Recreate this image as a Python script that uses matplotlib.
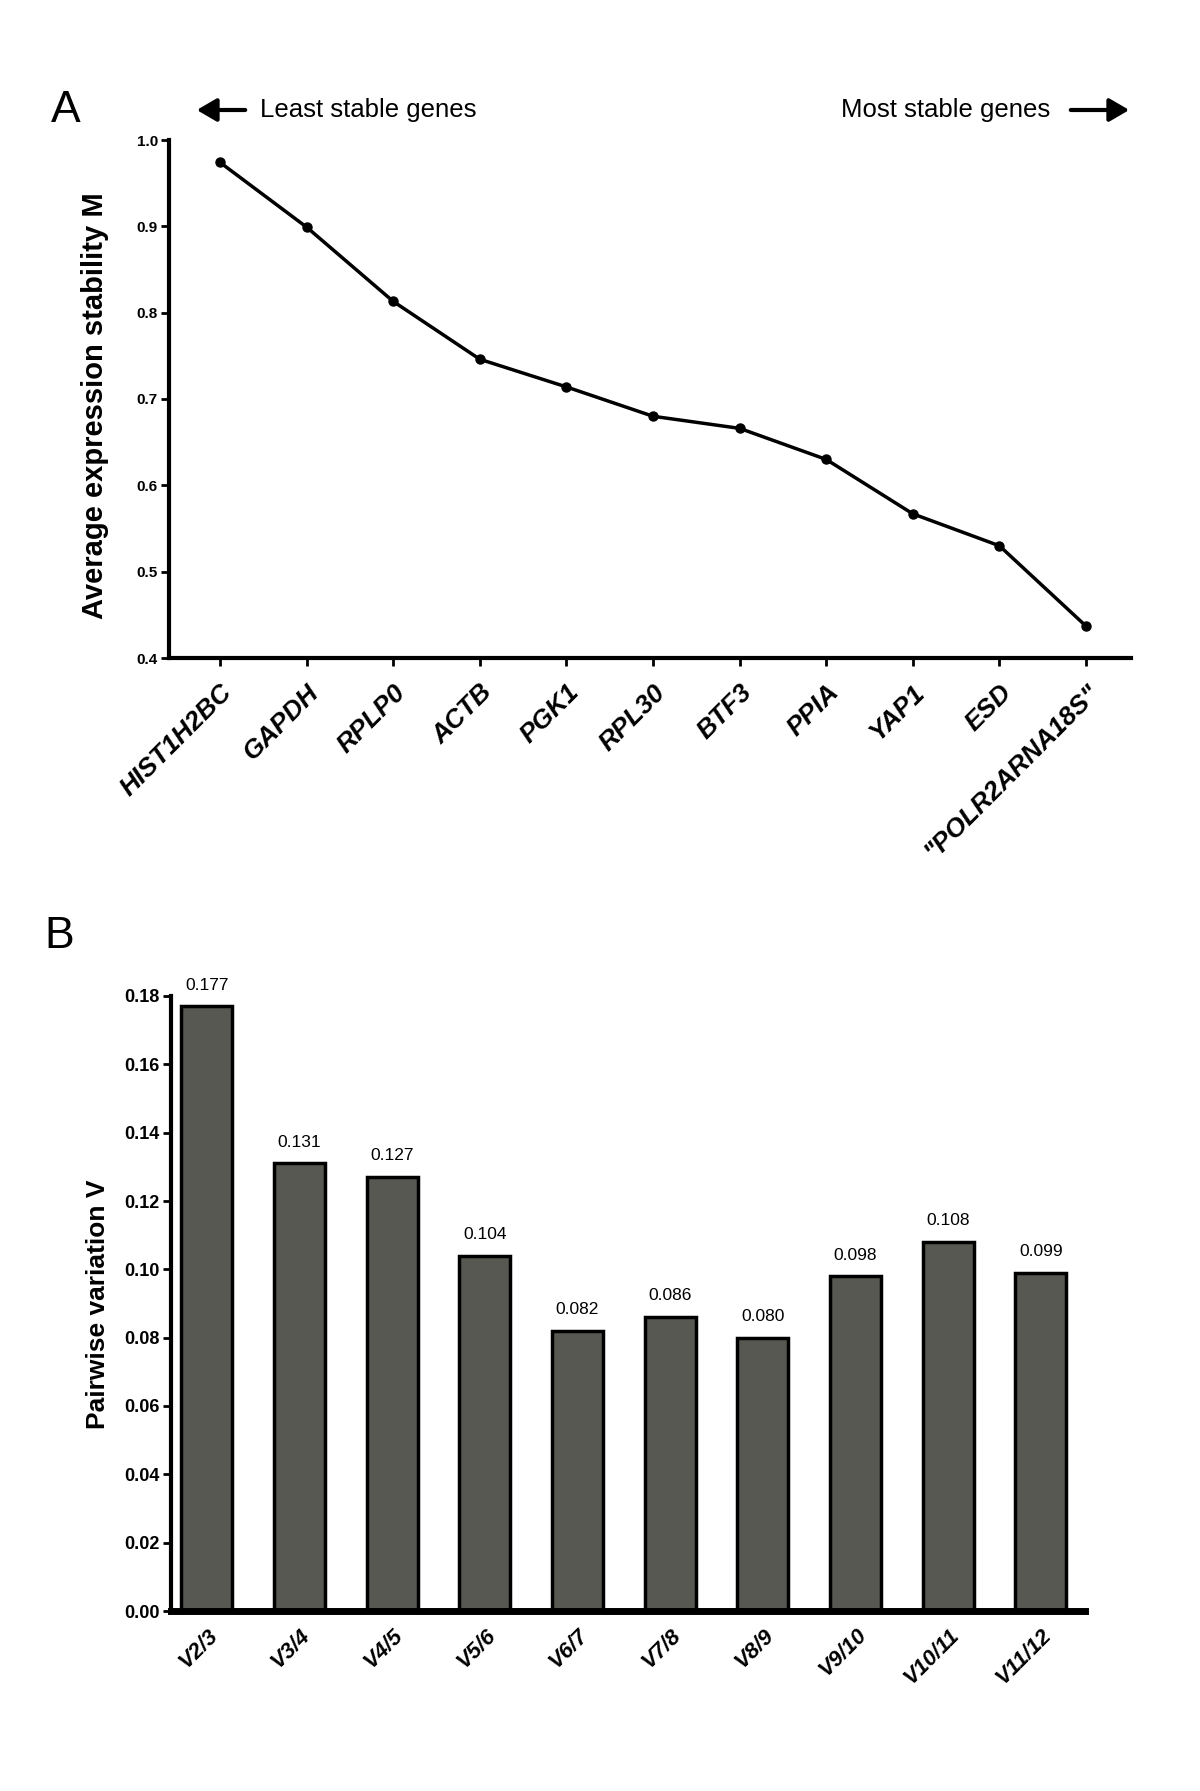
import matplotlib.pyplot as plt
import matplotlib.patches as mpatches
import matplotlib.transforms as mtransforms
import numpy as np

plt.rcParams['font.family'] = ['Liberation Sans', 'DejaVu Sans']

# Panel A: geNorm average expression stability
genes = ['HIST1H2BC', 'GAPDH', 'RPLP0', 'ACTB', 'PGK1', 'RPL30', 'BTF3',
         'PPIA', 'YAP1', 'ESD', '"POLR2ARNA18S"']
stability_m = [0.974, 0.899, 0.813, 0.746, 0.714, 0.680, 0.666, 0.630,
               0.567, 0.530, 0.437]
m_ticks = [0.4, 0.5, 0.6, 0.7, 0.8, 0.9, 1.0]

# Panel B: pairwise variation
pairs = ['V2/3', 'V3/4', 'V4/5', 'V5/6', 'V6/7', 'V7/8', 'V8/9', 'V9/10',
         'V10/11', 'V11/12']
pairwise_v = [0.177, 0.131, 0.127, 0.104, 0.082, 0.086, 0.080, 0.098,
              0.108, 0.099]
v_ticks = [0.00, 0.02, 0.04, 0.06, 0.08, 0.10, 0.12, 0.14, 0.16, 0.18]

W, H = 1200, 1791
fig = plt.figure(figsize=(12, 17.91), dpi=100)


def box(left, top, right, bottom):
    return [left / W, 1 - bottom / H, (right - left) / W, (bottom - top) / H]


# ---- Panel A ----
ax1 = fig.add_axes(box(169, 140, 1131, 658))
x1 = np.arange(len(genes))
ax1.plot(x1, stability_m, color='black', lw=2.5, marker='o', ms=6.5)
ax1.set_xlim(-0.59, 10.52)
ax1.set_ylim(0.4, 1.0)
ax1.set_yticks(m_ticks)
ax1.set_yticklabels(['%.1f' % t for t in m_ticks], fontsize=11, fontweight='bold')
ax1.set_xticks(x1)
ax1.set_xticklabels(genes, rotation=45, ha='right', rotation_mode='anchor',
                    fontsize=19, fontweight='bold', style='italic')
shift = mtransforms.ScaledTranslation(3 / 100, 0, fig.dpi_scale_trans)
for lbl in ax1.get_xticklabels():
    lbl.set_transform(lbl.get_transform() + shift)
for s in ['top', 'right']:
    ax1.spines[s].set_visible(False)
for s in ['left', 'bottom']:
    ax1.spines[s].set_linewidth(3)
ax1.tick_params(axis='x', width=2, length=6, direction='out', pad=10)
ax1.tick_params(axis='y', width=2, length=6, direction='out', pad=2)
ax1.set_ylabel('Average expression stability M', fontsize=21, fontweight='bold')
ax1.yaxis.set_label_coords(-0.062, 0.488)

fig.text(66 / W, 1 - 110 / H, 'A', fontsize=32, va='center', ha='center')
fig.text(260 / W, 1 - 110 / H, 'Least stable genes', fontsize=18.5,
         va='center', ha='left')
fig.text(1050 / W, 1 - 110 / H, 'Most stable genes', fontsize=18.5,
         va='center', ha='right')
fig.patches.append(mpatches.FancyArrowPatch(
    (248 / W, 1 - 110 / H), (194 / W, 1 - 110 / H), transform=fig.transFigure,
    arrowstyle='-|>,head_length=0.6,head_width=0.35', mutation_scale=20,
    lw=3, color='black'))
fig.patches.append(mpatches.FancyArrowPatch(
    (1068 / W, 1 - 110 / H), (1132 / W, 1 - 110 / H), transform=fig.transFigure,
    arrowstyle='-|>,head_length=0.6,head_width=0.35', mutation_scale=20,
    lw=3, color='black'))

# ---- Panel B ----
ax2 = fig.add_axes(box(171, 996, 1085, 1611))
x2 = np.arange(len(pairs))
ax2.bar(x2, pairwise_v, width=0.55, color='#575851',
        edgecolor='black', linewidth=2.5)
for xi, v in zip(x2, pairwise_v):
    ax2.text(xi, v + 0.004, '%.3f' % v, ha='center', va='bottom', fontsize=12.5)
ax2.set_xlim(-0.385, 9.475)
ax2.set_ylim(0, 0.18)
ax2.set_yticks(v_ticks)
ax2.set_yticklabels(['%.2f' % t for t in v_ticks], fontsize=13, fontweight='bold')
ax2.set_xticks(x2)
ax2.set_xticklabels(pairs, rotation=45, ha='right', rotation_mode='anchor',
                    fontsize=16, fontweight='bold', style='italic')
shift2 = mtransforms.ScaledTranslation(-8 / 100, 0, fig.dpi_scale_trans)
for lbl in ax2.get_xticklabels():
    lbl.set_transform(lbl.get_transform() + shift2)
for s in ['top', 'right']:
    ax2.spines[s].set_visible(False)
ax2.spines['left'].set_linewidth(3)
ax2.spines['bottom'].set_linewidth(5)
ax2.tick_params(axis='y', width=2, length=6, direction='out', pad=2)
ax2.tick_params(axis='x', length=0, pad=10)
ax2.set_ylabel('Pairwise variation V', fontsize=19, fontweight='bold')
ax2.yaxis.set_label_coords(-0.067, 0.498)

fig.text(59 / W, 1 - 936 / H, 'B', fontsize=32, va='center', ha='center')

fig.savefig('out.png', dpi=100, facecolor='white')
